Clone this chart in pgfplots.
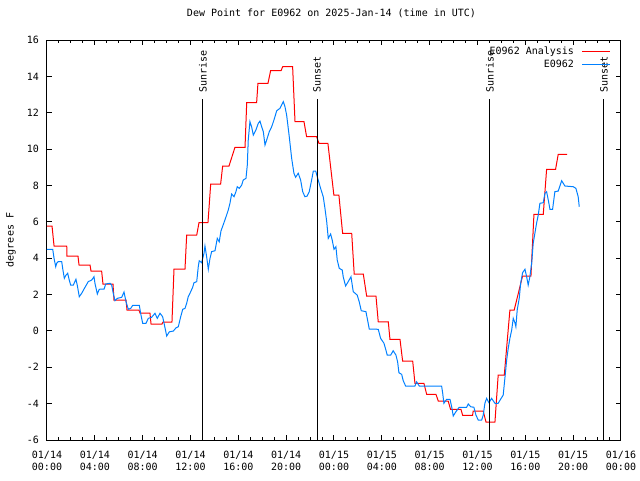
\documentclass[border=0pt]{standalone}
\usepackage{fontspec}
\setmainfont{DejaVu Sans Mono}
\usepackage{pgfplots}
\pgfplotsset{compat=1.18}
\definecolor{obsblue}{RGB}{0,128,255}
\begin{document}
\fontsize{7.5}{9.45}\selectfont
\begin{tikzpicture}
\useasboundingbox (-35.25pt,-30pt) rectangle (444.75pt,330pt);
\begin{axis}[
  scale only axis,
  width=430.5pt, height=300pt,
  xmin=0, xmax=48, ymin=-6, ymax=16,
  axis line style={line width=0.75pt},
  every tick/.style={black, line width=0.75pt},
  major tick length=3.5pt, minor tick length=2pt,
  tick align=inside,
  xtick={0,4,...,48},
  minor xtick={0,1,...,48},
  xticklabels={{01/14\\00:00},{01/14\\04:00},{01/14\\08:00},{01/14\\12:00},{01/14\\16:00},{01/14\\20:00},{01/15\\00:00},{01/15\\04:00},{01/15\\08:00},{01/15\\12:00},{01/15\\16:00},{01/15\\20:00},{01/16\\00:00}},
  xticklabel style={align=center, yshift=-5.3pt},
  ytick={-6,-4,...,16},
  yticklabel style={xshift=-3.3pt},
  /pgf/number format/assume math mode=true,
  title={Dew Point for E0962 on 2025-Jan-14 (time in UTC)},
  title style={at={(0.4956,1)}, anchor=base, yshift=12pt, inner sep=0pt},
  ylabel={degrees F},
  ylabel style={at={(axis description cs:-0.063,0.5)}, anchor=center, rotate=0},
  legend plot pos=right,
  legend cell align=right,
  legend image code/.code={\draw[#1] (0pt,0pt) -- (21pt,0pt);},
  legend style={at={(axis description cs:0.983,0.988)}, anchor=north east,
    draw=none, fill=none, inner sep=0pt, row sep=0pt, column sep=4.5pt,
    nodes={inner sep=1.5pt}},
]
\addplot[red, line width=0.75pt] coordinates {
(0,5.77)(0.42,5.77)(0.59,4.67)(1.65,4.67)(1.67,4.12)(2.59,4.12)
(2.68,3.62)(3.60,3.62)(3.68,3.29)(4.57,3.29)(4.68,2.58)(5.52,2.58)
(5.60,1.70)(6.61,1.70)(6.69,1.15)(7.69,1.15)(7.78,0.98)(8.61,0.98)
(8.70,0.38)(9.62,0.38)(9.70,0.49)(10.45,0.49)(10.62,3.40)(11.54,3.40)
(11.68,5.27)(12.52,5.27)(12.71,5.95)(13.46,5.95)(13.69,8.08)(14.52,8.08)
(14.69,9.07)(15.22,9.07)(15.72,10.10)(16.56,10.10)(16.70,12.55)(17.53,12.55)
(17.64,13.62)(18.48,13.62)(18.70,14.31)(19.57,14.31)(19.71,14.53)(20.54,14.53)
(20.74,11.51)(21.49,11.51)(21.71,10.68)(22.55,10.68)(22.74,10.32)(23.49,10.32)
(23.99,7.47)(24.41,7.47)(24.72,5.37)(25.48,5.37)(25.69,3.13)(26.45,3.13)
(26.73,1.92)(27.51,1.92)(27.70,0.50)(28.54,0.50)(28.68,-0.47)(29.52,-0.47)
(29.74,-1.66)(30.58,-1.66)(30.77,-2.88)(31.52,-2.88)(31.75,-3.49)(32.53,-3.49)
(32.72,-3.86)(33.55,-3.86)(33.75,-4.32)(34.62,-4.32)(34.76,-4.64)(35.59,-4.64)
(35.64,-4.41)(36.48,-4.41)(36.71,-5.01)(37.46,-5.01)(37.73,-2.43)(38.24,-2.43)
(38.71,1.15)(39.07,1.15)(39.77,3.02)(40.47,3.02)(40.72,6.41)(41.50,6.41)
(41.78,8.89)(42.53,8.89)(42.75,9.71)(43.50,9.71)
};
\addlegendentry{E0962 Analysis}
\addplot[obsblue, line width=0.75pt] coordinates {
(0,4.49)(0.48,4.49)(0.59,3.99)(0.73,3.53)(0.81,3.72)(0.94,3.81)(1.23,3.81)
(1.31,3.44)(1.45,2.89)(1.59,3.07)(1.73,3.17)(1.86,2.80)(1.98,2.52)(2.20,2.52)
(2.42,2.84)(2.53,2.52)(2.70,1.88)(2.90,2.07)(3.18,2.40)(3.45,2.71)(3.74,2.80)
(3.93,2.98)(4.01,2.62)(4.21,2.03)(4.37,2.29)(4.77,2.30)(4.91,2.58)(5.27,2.62)
(5.41,2.52)(5.54,2.07)(5.69,1.66)(5.88,1.79)(6.25,1.85)(6.44,2.14)(6.61,1.60)
(6.80,1.19)(7.00,1.24)(7.17,1.41)(7.72,1.41)(7.83,0.97)(8.00,0.42)(8.28,0.42)
(8.47,0.69)(8.75,0.75)(9.03,0.97)(9.22,0.69)(9.45,0.97)(9.67,0.78)(9.78,0.45)
(10.01,-0.28)(10.23,-0.05)(10.56,-0.01)(10.79,0.17)(10.98,0.23)(11.18,0.78)
(11.35,1.19)(11.54,1.24)(11.68,1.52)(11.81,1.88)(12.02,2.16)(12.18,2.40)
(12.29,2.65)(12.52,2.71)(12.65,3.53)(12.73,3.86)(12.93,3.75)(13.13,4.27)
(13.21,4.67)(13.35,4.08)(13.49,3.39)(13.63,3.99)(13.77,4.36)(14.05,4.41)
(14.24,5.09)(14.40,4.90)(14.55,5.50)(14.88,6.10)(15.16,6.65)(15.30,7.02)
(15.44,7.53)(15.64,7.38)(15.80,7.66)(15.91,7.93)(16.08,7.84)(16.28,8.02)
(16.41,8.30)(16.64,8.39)(16.75,9.12)(16.83,10.50)(16.97,11.51)(17.12,11.20)
(17.25,10.77)(17.47,11.05)(17.67,11.42)(17.81,11.54)(17.95,11.23)(18.09,10.96)
(18.23,10.22)(18.37,10.50)(18.59,10.96)(18.79,11.23)(18.98,11.60)(19.21,12.11)
(19.48,12.24)(19.76,12.61)(19.90,12.33)(20.04,11.87)(20.26,10.68)(20.46,9.49)
(20.65,8.67)(20.79,8.45)(21.01,8.67)(21.21,8.30)(21.38,7.66)(21.57,7.38)
(21.76,7.42)(21.93,7.66)(22.13,8.30)(22.27,8.79)(22.47,8.79)(22.68,8.30)
(22.88,7.84)(23.10,7.38)(23.24,6.76)(23.39,6.01)(23.52,5.09)(23.72,5.33)
(23.85,5.00)(24.00,4.49)(24.16,4.63)(24.27,3.90)(24.44,3.44)(24.69,3.35)
(24.77,2.98)(24.97,2.47)(25.19,2.71)(25.42,2.98)(25.61,2.16)(25.94,1.97)
(26.11,1.60)(26.28,1.11)(26.67,1.06)(26.86,0.42)(26.95,0.10)(27.70,0.09)
(27.90,-0.41)(28.18,-0.68)(28.34,-1.05)(28.45,-1.33)(28.74,-1.33)(28.95,-1.09)
(29.18,-1.33)(29.32,-1.70)(29.43,-2.30)(29.66,-2.39)(29.79,-2.74)(29.99,-3.03)
(30.77,-3.03)(30.91,-2.80)(31.13,-3.03)(33.00,-3.03)(33.09,-3.43)(33.19,-3.98)
(33.42,-3.76)(33.70,-3.76)(33.84,-4.17)(33.97,-4.68)(34.20,-4.44)(34.47,-4.20)
(35.09,-4.20)(35.23,-4.02)(35.43,-4.17)(35.70,-4.20)(35.87,-4.63)(36.06,-4.90)
(36.35,-4.90)(36.48,-4.63)(36.62,-3.98)(36.76,-3.71)(36.96,-3.95)(37.18,-3.71)
(37.46,-3.98)(37.73,-3.98)(37.93,-3.76)(38.15,-3.53)(38.29,-2.61)(38.44,-1.60)
(38.57,-0.96)(38.71,-0.41)(38.86,0.05)(38.99,0.69)(39.13,0.45)(39.21,0.23)
(39.32,1.15)(39.49,1.79)(39.61,2.62)(39.77,3.20)(39.97,3.39)(40.11,2.98)
(40.24,2.52)(40.38,2.98)(40.53,3.72)(40.66,4.82)(40.80,5.37)(40.94,5.92)
(41.08,6.37)(41.22,7.02)(41.50,7.05)(41.64,7.57)(41.78,7.66)(41.92,7.20)
(42.06,6.69)(42.28,6.69)(42.47,7.66)(42.75,7.69)(43.04,8.26)(43.31,7.97)
(44.01,7.93)(44.23,7.84)(44.42,7.38)(44.51,6.83)
};
\addlegendentry{E0962}
\addplot[black, line width=0.75pt, forget plot] coordinates {(13.04,-6)(13.04,12.75)};
\addplot[black, line width=0.75pt, forget plot] coordinates {(22.58,-6)(22.58,12.75)};
\addplot[black, line width=0.75pt, forget plot] coordinates {(37.04,-6)(37.04,12.75)};
\addplot[black, line width=0.75pt, forget plot] coordinates {(46.57,-6)(46.57,12.75)};
\node[rotate=90, anchor=west, inner sep=0pt] at (axis cs:13.04,13.1) {Sunrise};
\node[rotate=90, anchor=west, inner sep=0pt] at (axis cs:22.58,13.1) {Sunset};
\node[rotate=90, anchor=west, inner sep=0pt] at (axis cs:37.04,13.1) {Sunrise};
\node[rotate=90, anchor=west, inner sep=0pt] at (axis cs:46.57,13.1) {Sunset};
\end{axis}
\end{tikzpicture}
\end{document}
